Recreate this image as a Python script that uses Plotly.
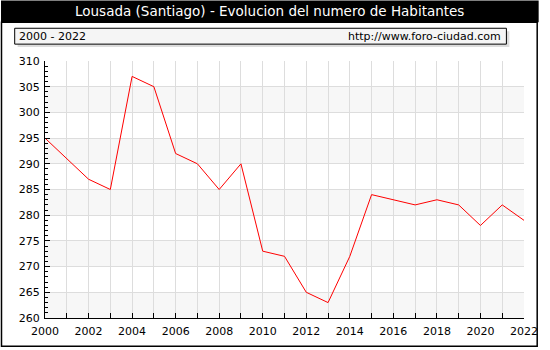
import plotly.graph_objects as go

years = list(range(2000, 2023))
habitantes = [295, 291, 287, 285, 307, 305, 292, 290, 285, 290, 273, 272, 265, 263, 272, 284, 283, 282, 283, 282, 278, 282, 279]
title_text = "Lousada (Santiago) - Evolucion del numero de Habitantes"
period_text = "2000 - 2022"
url_text = "http://www.foro-ciudad.com"
y_ticks = list(range(260, 311, 5))
x_labels = [str(y) if y % 2 == 0 else "" for y in years]

W, H = 550, 350
L, R, T, B = 45, 535, 61, 320
def px(x):
    return (x - L) / (R - L)
def py(y):
    return (B - y) / (B - T)

fig = go.Figure()
fig.add_trace(go.Scatter(x=years, y=habitantes, mode="lines",
                         line=dict(color="#ff0000", width=1), hoverinfo="x+y"))

shapes = []
# alternating bands
for i, lo in enumerate(y_ticks[:-1]):
    if i % 2 == 0:
        shapes.append(dict(type="rect", xref="x", yref="y", x0=years[0], x1=years[-1],
                           y0=lo, y1=lo + 5, fillcolor="#f7f7f7", line=dict(width=0), layer="below"))
# title bar
shapes.append(dict(type="rect", xref="paper", yref="paper", x0=px(0), x1=px(W), y0=py(0), y1=py(22),
                   fillcolor="#000000", line=dict(width=0), layer="below"))
# outer border
shapes.append(dict(type="rect", xref="paper", yref="paper", x0=px(0.5), x1=px(548.5), y0=py(22), y1=py(348.5),
                   fillcolor="rgba(0,0,0,0)", line=dict(color="#000000", width=1.5), layer="above"))
# subheader shadow and box
shapes.append(dict(type="rect", xref="paper", yref="paper", x0=px(17), x1=px(520), y0=py(31), y1=py(47),
                   fillcolor="#dcdcdc", line=dict(width=0), layer="below"))
shapes.append(dict(type="rect", xref="paper", yref="paper", x0=px(14), x1=px(517), y0=py(28), y1=py(44),
                   fillcolor="#f5f5f5", line=dict(color="#000000", width=1), layer="below"))

annotations = [
    dict(text=title_text, xref="paper", yref="paper", x=px(275), y=py(11), showarrow=False,
         font=dict(family="DejaVu Sans", size=13.5, color="#ffffff"), xanchor="center", yanchor="middle"),
    dict(text=period_text, xref="paper", yref="paper", x=px(16), y=py(36), showarrow=False,
         font=dict(family="DejaVu Sans", size=11, color="#000000"), xanchor="left", yanchor="middle"),
    dict(text=url_text, xref="paper", yref="paper", x=px(514), y=py(36), showarrow=False,
         font=dict(family="DejaVu Sans", size=11, color="#000000"), xanchor="right", yanchor="middle"),
]

fig.update_layout(
    width=W, height=H,
    margin=dict(l=L, r=W - R, t=T, b=H - B),
    paper_bgcolor="#ffffff", plot_bgcolor="#ffffff",
    showlegend=False,
    shapes=shapes, annotations=annotations,
    font=dict(family="DejaVu Sans", size=11, color="#000000"),
)
fig.update_xaxes(range=[years[0], years[-1]], tickvals=years, ticktext=x_labels,
                 ticks="inside", ticklen=5, tickcolor="#000000", ticklabelstandoff=3,
                 showgrid=True, gridcolor="#dddddd", gridwidth=1,
                 showline=True, linecolor="#000000", linewidth=1, zeroline=False,
                 tickfont=dict(family="DejaVu Sans", size=11))
fig.update_yaxes(range=[260, 310], tickvals=y_ticks,
                 ticks="inside", ticklen=5, tickcolor="#000000", ticklabelstandoff=2,
                 minor=dict(dtick=1, ticks="inside", ticklen=3, tickcolor="#000000", showgrid=False),
                 showgrid=True, gridcolor="#dddddd", gridwidth=1,
                 showline=True, linecolor="#000000", linewidth=1, zeroline=False,
                 tickfont=dict(family="DejaVu Sans", size=11))

fig.write_html("out.html")
